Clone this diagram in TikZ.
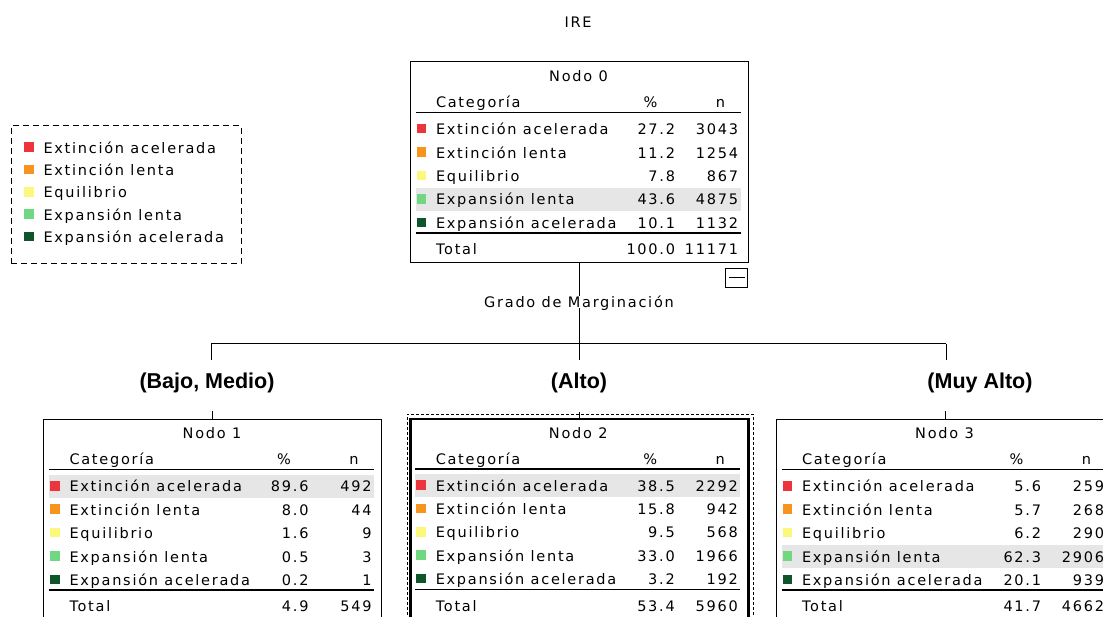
\documentclass[tikz,border=0pt]{standalone}
\usepackage{fontspec}
\usepackage{tikz}
\newfontfamily\spss[LetterSpace=12]{DejaVu Sans}
\newfontfamily\etiq{Liberation Sans}
\definecolor{cat1}{RGB}{236,52,60}
\definecolor{cat2}{RGB}{247,148,30}
\definecolor{cat3}{RGB}{252,248,125}
\definecolor{cat4}{RGB}{112,216,128}
\definecolor{cat5}{RGB}{12,86,42}
\definecolor{resalte}{RGB}{230,230,230}
\tikzstyle{caja}=[draw, line width=1pt, minimum width=338pt, minimum height=201pt, inner sep=0pt]
\tikzstyle{texto}=[font=\spss\fontsize{14.5}{16}\selectfont, inner sep=0pt, text height=10.6pt, text depth=0pt]
\tikzstyle{rama}=[font=\etiq\bfseries\fontsize{21.5}{24}\selectfont, inner sep=0pt]
\newcommand{\categoria}[1]{\ifcase#1\or Extinción acelerada\or Extinción lenta\or Equilibrio\or Expansión lenta\or Expansión acelerada\fi}
% tabla de un nodo: nombre, titulo, filas pct/n, total pct, total n, fila resaltada
\newcommand{\tablanodo}[6]{%
  \begin{scope}[shift={(#1.north west)}]
    \fill[resalte] (6,{32.6+23.4*#6}) rectangle (331,{55.6+23.4*#6});
    \node[texto] (#1-tit) at (169,15) {#2};
    \node[texto, anchor=west] (#1-cab) at (26,41) {Categoría};
    \node[texto] (#1-pc) at (241,41) {\%};
    \node[texto] (#1-n) at (311,41) {n};
    \draw[line width=1.5pt] (6,51) -- (331,51);
    \foreach \pc/\nn [count=\i] in {#3} {
      \pgfmathsetmacro\yy{44.6+23.4*\i}
      \fill[cat\i] (7,{\yy-5.5}) rectangle (16.5,{\yy+4});
      \node[texto, anchor=west] (#1-c\i) at (26,\yy) {\categoria{\i}};
      \node[texto, anchor=east] (#1-p\i) at (266,\yy) {\pc};
      \node[texto, anchor=east] (#1-v\i) at (329,\yy) {\nn};
    }
    \draw[line width=1.5pt] (6,171.5) -- (331,171.5);
    \node[texto, anchor=west] (#1-tot) at (26,188) {Total};
    \node[texto, anchor=east] (#1-tp) at (266,188) {#4};
    \node[texto, anchor=east] (#1-tn) at (329,188) {#5};
  \end{scope}}

\begin{document}
\begin{tikzpicture}[x=1pt, y=-1pt, line width=1pt]
  \fill[white] (0,0) rectangle (1103,617);
  \clip (0,0) rectangle (1103,617);

  \node[texto] (titulo) at (578,22) {IRE};

  % leyenda
  \node[draw, dashed, dash pattern=on 6pt off 4pt, minimum width=230pt, minimum height=138pt] (leyenda) at (126,195) {};
  \foreach \i in {1,...,5} {
    \pgfmathsetmacro\yy{125.7+22.3*\i}
    \fill[cat\i] (24,{\yy-5.5}) rectangle (33.5,{\yy+4});
    \node[texto, anchor=west] (ley\i) at (43,\yy) {\categoria{\i}};
  }

  % nodos
  \node[caja] (n0) at (579,162.5) {};
  \node[caja] (n1) at (212.5,519.5) {};
  \node[caja, line width=2.5pt] (n2) at (579.5,519.5) {};
  \node[caja] (n3) at (945,519.5) {};
  \node[draw, dashed, dash pattern=on 3pt off 2pt, minimum width=346pt, minimum height=220pt] (sel) at (580,524) {};
  \node[draw, minimum width=22pt, minimum height=19pt, inner sep=0pt, anchor=north east] (colapso) at (748,268) {};
  \draw ([xshift=4pt]colapso.west) -- ([xshift=-3pt]colapso.east);

  \tablanodo{n0}{Nodo 0}{27.2/3043,11.2/1254,7.8/867,43.6/4875,10.1/1132}{100.0}{11171}{4}
  \tablanodo{n1}{Nodo 1}{89.6/492,8.0/44,1.6/9,0.5/3,0.2/1}{4.9}{549}{1}
  \tablanodo{n2}{Nodo 2}{38.5/2292,15.8/942,9.5/568,33.0/1966,3.2/192}{53.4}{5960}{1}
  \tablanodo{n3}{Nodo 3}{5.6/259,5.7/268,6.2/290,62.3/2906,20.1/939}{41.7}{4662}{4}

  % ramas
  \coordinate (ramal) at (579,344);
  \coordinate (r1) at (211,344);
  \coordinate (r3) at (946,344);
  \coordinate (f1) at (211,360);
  \coordinate (f2) at (579,360);
  \coordinate (f3) at (946,360);
  \draw (n0.south) -- (ramal);
  \draw (r1) -- (r3);
  \draw (r1) -- (f1);
  \draw (ramal) -- (f2);
  \draw (r3) -- (f3);
  \node[texto, fill=white, inner sep=1pt] (variable) at (579,302) {Grado de Marginación};

  \node[rama] (l1) at (207,383) {(Bajo, Medio)};
  \node[rama] (l2) at (579,383) {(Alto)};
  \node[rama] (l3) at (980,383) {(Muy Alto)};

  \draw (n1.north) -- ++(0,-7);
  \draw (n2.north) -- ++(0,-6);
  \draw (n3.north) -- ++(0,-7);
\end{tikzpicture}
\end{document}
